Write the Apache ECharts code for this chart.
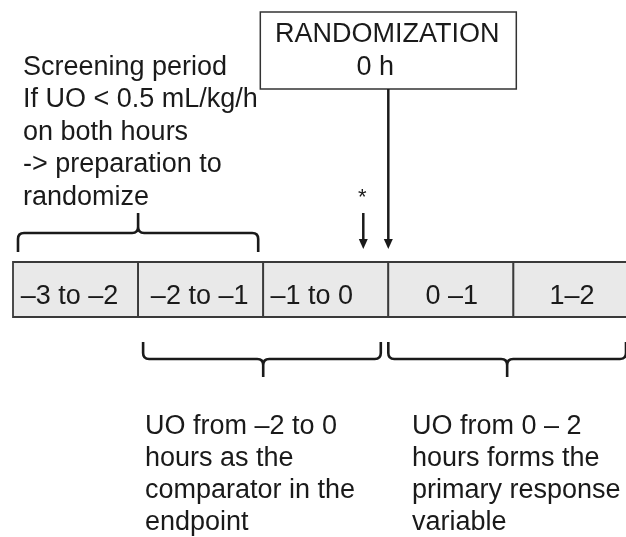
<!DOCTYPE html>
<html>
<head>
<meta charset="utf-8">
<script src="https://cdn.jsdelivr.net/npm/echarts@6/dist/echarts.min.js"></script>
<style>
html, body { margin: 0; padding: 0; background: #fff; }
#main { width: 626px; height: 537px; }
</style>
</head>
<body>
<div id="main"></div>
<script>
// hour cells of the timeline
var cellStart = [-3, -2, -1, 0, 1];
var cellEnd = [-2, -1, 0, 1, 2];
var cellLabels = ['\u20133 to \u20132', '\u20132 to \u20131', '\u20131 to 0', '0 \u20131', '1\u20132'];

// braces (hours): from, to, tip
var braceFrom = [-2.96, -1.96, 0.0];
var braceTo = [-1.04, -0.06, 1.9];
var braceTip = [-2, -1, 0.95];
var braceSide = ['top', 'bottom', 'bottom'];

// arrows (hours)
var randomHour = [0];
var starHour = [-0.2];

var boxLines = ['RANDOMIZATION', '0 h'];
var screeningText = ['Screening period', 'If UO < 0.5 mL/kg/h', 'on both hours', '-> preparation to', 'randomize'];
var comparatorText = ['UO from \u20132 to 0', 'hours as the', 'comparator in the', 'endpoint'];
var responseText = ['UO from 0 \u2013 2', 'hours forms the', 'primary response', 'variable'];

var FONT = '"Liberation Sans", Arial, sans-serif';
var INK = '#1a1a1a';
// small horizontal nudges of the labels inside the cells (px)
var labelShift = [-6, -1, -14, 1, -4];

var myChart = echarts.init(document.getElementById('main'));

var cellData = cellStart.map(function (s, i) { return [s, cellEnd[i]]; });
var braceData = braceFrom.map(function (f, i) { return [f, braceTo[i], braceTip[i], braceSide[i] === 'top' ? 1 : 0]; });

function arrowHead(x, y) {
    return {
        type: 'polygon',
        shape: { points: [[x - 4.5, y - 10], [x + 4.5, y - 10], [x, y]] },
        style: { fill: INK }
    };
}

var option = {
    animation: false,
    backgroundColor: '#fff',
    grid: { left: 13, right: 0, top: 0, bottom: 0 },
    xAxis: { type: 'value', min: -3, max: 1.9, show: false },
    yAxis: { type: 'value', min: 0, max: 537, inverse: true, show: false },
    series: [
        {
            // timeline cells
            type: 'custom',
            data: cellData,
            clip: false,
            renderItem: function (params, api) {
                var p1 = api.coord([api.value(0), 262]);
                var p2 = api.coord([api.value(1), 317]);
                return {
                    type: 'group',
                    children: [
                        {
                            type: 'rect',
                            shape: { x: p1[0], y: p1[1], width: p2[0] - p1[0], height: p2[1] - p1[1] },
                            style: { fill: '#e9e9e9', stroke: '#3a3a3a', lineWidth: 1.8 }
                        },
                        {
                            type: 'text',
                            style: {
                                text: cellLabels[params.dataIndex],
                                x: (p1[0] + p2[0]) / 2 + labelShift[params.dataIndex], y: p1[1] + 35,
                                align: 'center', verticalAlign: 'middle',
                                font: '27px ' + FONT, fill: INK
                            }
                        }
                    ]
                };
            }
        },
        {
            // curly braces
            type: 'custom',
            data: braceData,
            clip: false,
            renderItem: function (params, api) {
                var top = api.value(3) === 1;
                var y0 = top ? 252 : 342, yh = top ? 233 : 359, yc = top ? 213 : 377;
                var d = top ? -1 : 1;
                var x1 = api.coord([api.value(0), 0])[0];
                var x2 = api.coord([api.value(1), 0])[0];
                var xm = api.coord([api.value(2), 0])[0];
                var r = 6;
                var path =
                    'M' + x1 + ',' + y0 +
                    'L' + x1 + ',' + (yh - d * r) +
                    'Q' + x1 + ',' + yh + ' ' + (x1 + r) + ',' + yh +
                    'L' + (xm - r) + ',' + yh +
                    'Q' + xm + ',' + yh + ' ' + xm + ',' + (yh + d * r) +
                    'L' + xm + ',' + yc +
                    'M' + xm + ',' + (yh + d * r) +
                    'Q' + xm + ',' + yh + ' ' + (xm + r) + ',' + yh +
                    'L' + (x2 - r) + ',' + yh +
                    'Q' + x2 + ',' + yh + ' ' + x2 + ',' + (yh - d * r) +
                    'L' + x2 + ',' + y0;
                return {
                    type: 'path',
                    shape: { pathData: path },
                    style: { fill: null, stroke: INK, lineWidth: 2.6 }
                };
            }
        },
        {
            // randomization box and its arrow
            type: 'custom',
            data: randomHour.map(function (h) { return [h]; }),
            clip: false,
            renderItem: function (params, api) {
                var x = api.coord([api.value(0), 0])[0];
                return {
                    type: 'group',
                    children: [
                        {
                            type: 'rect',
                            shape: { x: x - 128, y: 12, width: 256, height: 77 },
                            style: { fill: '#fff', stroke: '#333', lineWidth: 1.5 }
                        },
                        {
                            type: 'text',
                            style: { text: boxLines[0], x: x - 1, y: 35, align: 'center', verticalAlign: 'middle', font: '27px ' + FONT, fill: INK }
                        },
                        {
                            type: 'text',
                            style: { text: boxLines[1], x: x - 13, y: 68, align: 'center', verticalAlign: 'middle', font: '27px ' + FONT, fill: INK }
                        },
                        {
                            type: 'line',
                            shape: { x1: x, y1: 89, x2: x, y2: 240 },
                            style: { stroke: INK, lineWidth: 2.5 }
                        },
                        arrowHead(x, 249)
                    ]
                };
            }
        },
        {
            // starred arrow
            type: 'custom',
            data: starHour.map(function (h) { return [h]; }),
            clip: false,
            renderItem: function (params, api) {
                var x = api.coord([api.value(0), 0])[0];
                return {
                    type: 'group',
                    children: [
                        {
                            type: 'text',
                            style: { text: '*', x: x - 1, y: 198, align: 'center', verticalAlign: 'middle', font: '22px ' + FONT, fill: INK }
                        },
                        {
                            type: 'line',
                            shape: { x1: x, y1: 213, x2: x, y2: 240 },
                            style: { stroke: INK, lineWidth: 2.5 }
                        },
                        arrowHead(x, 249)
                    ]
                };
            }
        }
    ],
    graphic: [
        {
            type: 'text', left: 23, top: 51,
            style: { text: screeningText.join('\n'), font: '27px ' + FONT, lineHeight: 32.5, fill: INK }
        },
        {
            type: 'text', left: 145, top: 411,
            style: { text: comparatorText.join('\n'), font: '27px ' + FONT, lineHeight: 32, fill: INK }
        },
        {
            type: 'text', left: 412, top: 411,
            style: { text: responseText.join('\n'), font: '27px ' + FONT, lineHeight: 32, fill: INK }
        }
    ]
};

myChart.setOption(option);
</script>
</body>
</html>
